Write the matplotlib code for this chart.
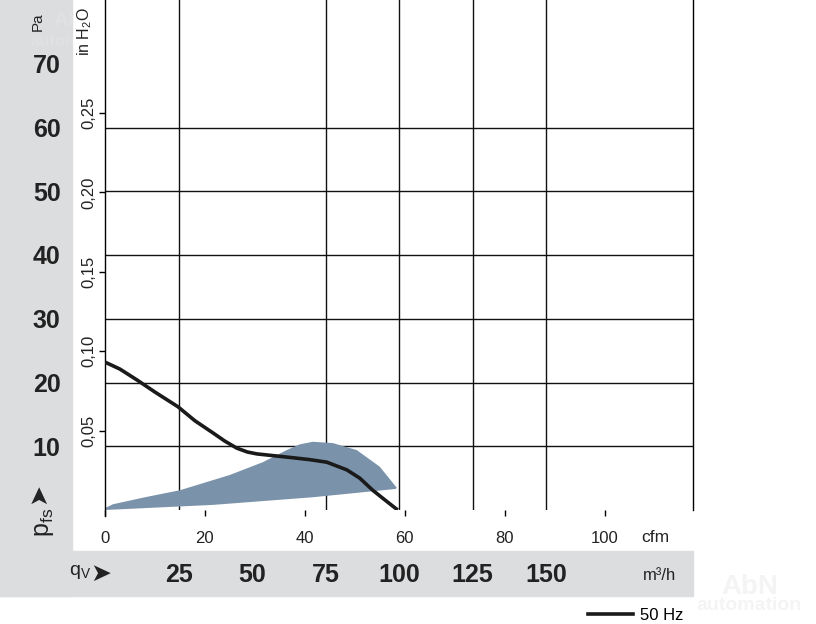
import matplotlib
matplotlib.use("Agg")
import matplotlib.pyplot as plt
from matplotlib.patches import Rectangle
from matplotlib.lines import Line2D

plt.rcParams['font.family'] = ['Liberation Sans Narrow', 'Liberation Sans', 'DejaVu Sans']
plt.rcParams['mathtext.fontset'] = 'custom'
plt.rcParams['mathtext.rm'] = 'Liberation Sans'
plt.rcParams['mathtext.it'] = 'Liberation Sans'

# data (cfm, Pa)
curve_cfm = [0, 3, 6.4, 10, 14.6, 18, 21.6, 24, 26.4, 28.5, 30.4, 34, 37.6, 41, 44.4, 48.4, 51, 53.6, 56, 58.6]
curve_pa = [23.2, 22.1, 20.4, 18.5, 16.2, 14.0, 12.1, 10.8, 9.7, 9.1, 8.8, 8.5, 8.2, 7.9, 7.5, 6.3, 5.0, 3.1, 1.6, 0.0]

area_top_cfm = [0, 1.6, 8, 15, 25, 31.6, 36.4, 39, 41.6, 45.6, 50.4, 55, 58.4]
area_top_pa = [0.3, 0.9, 2.0, 3.1, 5.5, 7.5, 9.4, 10.3, 10.7, 10.5, 9.4, 6.8, 3.5]
area_bot_cfm = [58.2, 41.6, 21.6, 0]
area_bot_pa = [3.3, 2.0, 0.8, 0.0]

pa_labels = [10, 20, 30, 40, 50, 60, 70]
pa_grid = [10, 20, 30, 40, 50, 60]
inh2o_ticks = [0.05, 0.10, 0.15, 0.20, 0.25]
cfm_ticks = [0, 20, 40, 60, 80, 100]
m3h_labels = [25, 50, 75, 100, 125, 150]
m3h_grid = [25, 75, 100, 125, 150]

CFM2M3H = 1.69901
PA_PER_INH2O = 249.089
W, H = 816, 624
GRAY = '#dcdddf'
SHADE = '#7b93aa'
INK = '#222222'


def fx(x):
    return x / W


def fy(y):
    return 1 - y / H


fig = plt.figure(figsize=(W / 100, H / 100), dpi=100)
fig.patches.append(Rectangle((0, fy(596)), fx(72), fy(0) - fy(596), transform=fig.transFigure,
                             color=GRAY, zorder=-2))
fig.patches.append(Rectangle((0, fy(596)), fx(693), fy(551) - fy(596), transform=fig.transFigure,
                             color=GRAY, zorder=-2))

# watermarks
fig.text(fx(750), fy(587), 'AbN', fontsize=20, fontweight='bold', ha='center', va='center',
         color='#f4f4f4', zorder=-1)
fig.text(fx(749), fy(606), 'automation', fontsize=14, fontweight='bold', ha='center', va='center',
         color='#f4f4f4', zorder=-1)
fig.text(fx(75), fy(20), 'AbN', fontsize=15, fontweight='bold', ha='center', va='center',
         color='white', alpha=0.12, zorder=-1)
fig.text(fx(75), fy(42), 'automation', fontsize=12, fontweight='bold', ha='center', va='center',
         color='white', alpha=0.12, zorder=-1)

ax = fig.add_axes([fx(105), fy(510), fx(693) - fx(105), fy(0) - fy(510)])
ax.set_facecolor('none')
ax.set_xlim(0, 200 / CFM2M3H)
ax.set_ylim(0, 80)

for v in m3h_grid:
    ax.axvline(v / CFM2M3H, color='#111111', lw=1.0, zorder=1)
for v in pa_grid:
    ax.axhline(v, color='#111111', lw=1.0, zorder=1)

ax.fill(area_top_cfm + area_bot_cfm, area_top_pa + area_bot_pa, color=SHADE, lw=0, zorder=2)
ax.plot(curve_cfm, curve_pa, color='#1a1a1a', lw=2.6, zorder=3, solid_capstyle='butt',
        solid_joinstyle='round')

for s in ['top', 'bottom']:
    ax.spines[s].set_visible(False)
ax.spines['left'].set_linewidth(1.0)
ax.spines['right'].set_linewidth(1.0)
ax.spines['left'].set_bounds(-0.9, 80)

# Pa labels (left gray band)
ax.set_yticks(pa_labels)
ax.set_yticklabels([str(v) for v in pa_labels], fontsize=18, fontweight='bold', color=INK)
ax.tick_params(axis='y', length=0, pad=32)

# cfm labels
ax.set_xticks(cfm_ticks)
ax.set_xticklabels([str(v) for v in cfm_ticks], fontsize=12, color=INK)
ax.tick_params(axis='x', length=4.5, width=1.0, pad=10.5, direction='out')
for t in ax.xaxis.get_major_ticks()[1:3]:
    t.tick1line.set_visible(False)

# inH2O scale (twin axes, ticks on the left)
ax2 = ax.twinx()
ax2.set_ylim(0, 80 / PA_PER_INH2O)
ax2.yaxis.tick_left()
ax2.set_yticks(inh2o_ticks)
ax2.set_yticklabels([('%.2f' % v).replace('.', ',') for v in inh2o_ticks], rotation=90,
                    va='center', fontsize=12, color=INK)
ax2.tick_params(axis='y', length=4.5, width=1.0, pad=2)
for s in ax2.spines.values():
    s.set_visible(False)

# m3/h scale (twin axes, labels in the bottom gray band)
ax3 = ax.twiny()
ax3.set_xlim(0, 200)
ax3.xaxis.tick_bottom()
ax3.set_xticks(m3h_labels)
ax3.set_xticklabels([str(v) for v in m3h_labels], fontsize=18, fontweight='bold', color=INK)
ax3.tick_params(axis='x', length=0, pad=38)
for s in ax3.spines.values():
    s.set_visible(False)

# axis captions
fig.text(fx(655), fy(537), 'cfm', fontsize=12.5, ha='center', va='center', color=INK)
fig.text(fx(660), fy(575), 'm³/h', fontsize=12, ha='center', va='center', color=INK)
fig.text(fx(38), fy(22), 'Pa', fontsize=11, rotation=90, ha='center', va='center', color=INK)
fig.text(fx(85), fy(32), r'in H$_\mathrm{2}$O', fontsize=11.5, rotation=90, ha='center', va='center',
         color=INK)
fig.text(fx(44), fy(522), r'$\mathrm{p_{fs}}$', fontsize=18, rotation=90, ha='center', va='center',
         color=INK)
fig.text(fx(38), fy(493), '➤', fontsize=18, rotation=90, ha='center', va='center', color=INK,
         family=['DejaVu Sans'])
fig.text(fx(80), fy(572), r'$\mathrm{q_V}$', fontsize=14, ha='center', va='center', color=INK)
fig.text(fx(101), fy(574), '➤', fontsize=18, ha='center', va='center', color=INK,
         family=['DejaVu Sans'])

# legend
h = Line2D([], [], color='#1a1a1a', lw=2.6)
fig.legend(handles=[h], labels=['50 Hz'], loc='center left', bbox_to_anchor=(fx(588), fy(615)),
           frameon=False, fontsize=12, handlelength=2.7, handletextpad=0.4, borderaxespad=0,
           borderpad=0)

fig.savefig('out.png', dpi=100)
